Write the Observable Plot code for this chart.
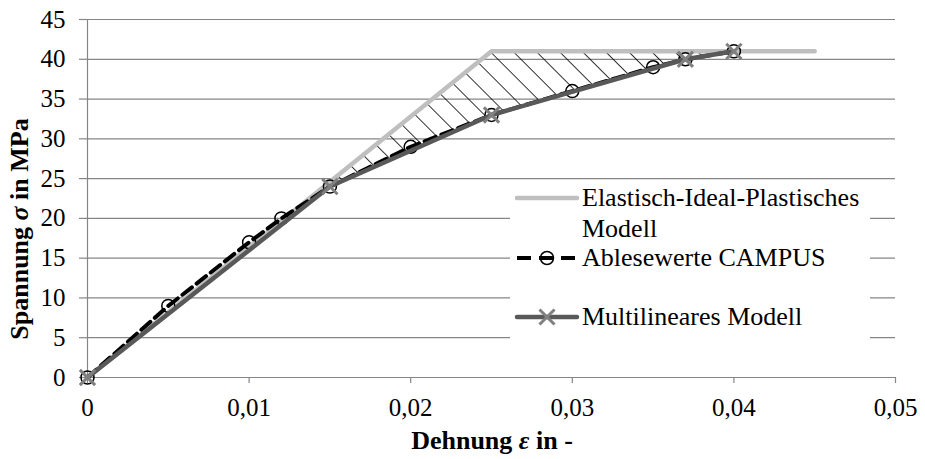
<!DOCTYPE html>
<html>
<head>
<meta charset="utf-8">
<script src="https://cdn.jsdelivr.net/npm/d3@7"></script>
<script src="https://cdn.jsdelivr.net/npm/@observablehq/plot@0.6"></script>
<style>
  html, body { margin: 0; padding: 0; background: #fff; }
  #chart svg { display: block; }
  #chart svg text { font-family: "Liberation Serif", "Times New Roman", serif; }
</style>
</head>
<body>
<div id="chart"></div>
<script>
// ---- data ----
const seriesNames = ["Elastisch-Ideal-Plastisches Modell", "Ablesewerte CAMPUS", "Multilineares Modell"];
const elasticX = [0, 0.025, 0.045];
const elasticY = [0, 41, 41];
const campusX = [0, 0.005, 0.01, 0.012, 0.015, 0.02, 0.025, 0.03, 0.035, 0.037, 0.04];
const campusY = [0, 9, 17, 20, 24, 29, 33, 36, 39, 40, 41];
const multiX = [0, 0.015, 0.025, 0.037, 0.04];
const multiY = [0, 24, 33, 40, 41];
const xTicks = [0, 0.01, 0.02, 0.03, 0.04, 0.05];
const yTicks = [0, 5, 10, 15, 20, 25, 30, 35, 40, 45];
const xTitle = ["Dehnung ", "ε", " in -"];
const yTitle = ["Spannung ", "σ", " in MPa"];

const toPts = (xs, ys) => xs.map((x, i) => ({x, y: ys[i]}));
const elastic = toPts(elasticX, elasticY);
const campus = toPts(campusX, campusY);
const multi = toPts(multiX, multiY);

const fmt = d => d === 0 ? "0" : d.toFixed(2).replace(".", ",");
const gridColor = "#868686";
const FONT = "'Liberation Serif', 'Times New Roman', serif";

// hatched region between elastic-plastic model and multilinear model
const lastMultiX = multiX[multiX.length - 1];
const hatchPoly = [...elastic.filter(p => p.x <= lastMultiX), ...multi.slice().reverse()];

function hatchMark(index, scales) {
  const g = d3.create("svg:g");
  const defs = g.append("defs");
  const pat = defs.append("pattern")
    .attr("id", "hatch")
    .attr("patternUnits", "userSpaceOnUse")
    .attr("width", 16.3).attr("height", 16.3)
    .attr("patternTransform", "rotate(-45)");
  pat.append("line").attr("x1", 0).attr("y1", -2).attr("x2", 0).attr("y2", 20)
    .attr("stroke", "#000").attr("stroke-width", 1.6);
  const line = d3.line().x(d => scales.x(d.x)).y(d => scales.y(d.y));
  g.append("path").attr("d", line(hatchPoly) + "Z").attr("fill", "url(#hatch)").attr("stroke", "none");
  return g.node();
}

const plot = Plot.plot({
  width: 925,
  height: 459,
  marginLeft: 87,
  marginRight: 30,
  marginTop: 19,
  marginBottom: 82,
  style: { fontFamily: FONT, fontSize: "25px", color: "#000", background: "#fff", overflow: "visible" },
  x: { domain: [0, 0.05], ticks: xTicks, tickFormat: fmt },
  y: { domain: [0, 45], ticks: yTicks },
  marks: [
    Plot.gridY(yTicks, { stroke: gridColor, strokeOpacity: 1, strokeWidth: 1.2 }),
    Plot.ruleX([0], { stroke: gridColor, strokeWidth: 1.2 }),
    Plot.ruleY([0], { stroke: gridColor, strokeWidth: 1.2 }),
    Plot.axisY(yTicks, { tickSize: 8, tickPadding: 14, stroke: gridColor, strokeWidth: 1.2, label: null, fontSize: 25, fill: "#000" }),
    Plot.axisX(xTicks, { tickSize: 6, tickPadding: 15, stroke: gridColor, strokeWidth: 1.2, label: null, tickFormat: fmt, fontSize: 25, fill: "#000" }),
    hatchMark,
    Plot.line(elastic, { x: "x", y: "y", stroke: "#bfbfbf", strokeWidth: 4.5 }),
    Plot.line(campus, { x: "x", y: "y", stroke: "#000", strokeWidth: 4, strokeDasharray: "12,6" }),
    Plot.dot(campus, { x: "x", y: "y", r: 6.5, stroke: "#000", strokeWidth: 1.5, fill: "none" }),
    Plot.line(multi, { x: "x", y: "y", stroke: "#595959", strokeWidth: 4.5 }),
    Plot.dot(multi, { x: "x", y: "y", symbol: "times", r: 7, stroke: "#808080", strokeWidth: 3 })
  ]
});

const svg = d3.select(plot);

// axis titles
const xt = svg.append("text")
  .attr("x", 492).attr("y", 449)
  .attr("text-anchor", "middle").attr("font-family", FONT)
  .attr("font-weight", "bold").attr("font-size", 26).attr("fill", "#000");
xt.append("tspan").text(xTitle[0]);
xt.append("tspan").attr("font-style", "italic").text(xTitle[1]);
xt.append("tspan").text(xTitle[2]);

const yt = svg.append("text")
  .attr("transform", "translate(28,229) rotate(-90)")
  .attr("text-anchor", "middle").attr("font-family", FONT)
  .attr("font-weight", "bold").attr("font-size", 26).attr("fill", "#000");
yt.append("tspan").text(yTitle[0]);
yt.append("tspan").attr("font-style", "italic").text(yTitle[1]);
yt.append("tspan").text(yTitle[2]);

// legend
const lg = svg.append("g").attr("text-anchor", "start").attr("font-family", FONT).attr("font-size", 26).attr("fill", "#000");
lg.append("rect").attr("x", 510).attr("y", 183).attr("width", 360).attr("height", 160).attr("fill", "#fff");
const sx0 = 517, sx1 = 577, tx = 582;
// elastic
lg.append("line").attr("x1", sx0).attr("x2", sx1).attr("y1", 198).attr("y2", 198)
  .attr("stroke", "#bfbfbf").attr("stroke-width", 4.5).attr("stroke-linecap", "round");
const words = seriesNames[0].split(" ");
lg.append("text").attr("x", tx).attr("y", 206).attr("text-anchor", "start").text(words[0]);
lg.append("text").attr("x", tx).attr("y", 237).attr("text-anchor", "start").text(words[1]);
// campus
lg.append("line").attr("x1", sx0).attr("x2", sx1).attr("y1", 258).attr("y2", 258)
  .attr("stroke", "#000").attr("stroke-width", 4).attr("stroke-dasharray", "14,8");
lg.append("circle").attr("cx", 547).attr("cy", 258).attr("r", 6.5).attr("fill", "none").attr("stroke", "#000").attr("stroke-width", 1.5);
lg.append("text").attr("x", tx).attr("y", 266).attr("text-anchor", "start").text(seriesNames[1]);
// multi
lg.append("line").attr("x1", sx0).attr("x2", sx1).attr("y1", 317).attr("y2", 317)
  .attr("stroke", "#595959").attr("stroke-width", 4.5).attr("stroke-linecap", "round");
lg.append("path").attr("d", d3.symbol(d3.symbolTimes, 150)()).attr("transform", "translate(547,317)")
  .attr("fill", "none").attr("stroke", "#808080").attr("stroke-width", 3);
lg.append("text").attr("x", tx).attr("y", 325).attr("text-anchor", "start").text(seriesNames[2]);

document.getElementById("chart").appendChild(plot);
</script>
</body>
</html>
